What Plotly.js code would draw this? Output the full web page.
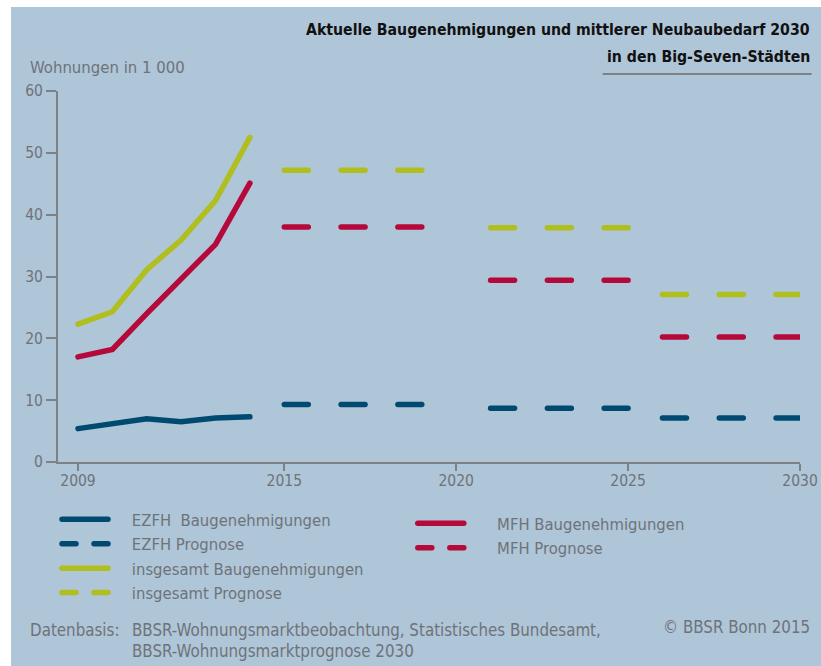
<!DOCTYPE html>
<html><head><meta charset="utf-8">
<script src="https://cdn.plot.ly/plotly-3.0.1.min.js"></script>
<style>
html,body{margin:0;padding:0;background:#ffffff;}
#chart{position:absolute;left:11px;top:7px;width:810px;height:659px;}
.scatterlayer path.js-line, .legendlines path.js-line {stroke-linecap: round;}
</style></head><body><div id="chart"></div>
<script>
// ---- data ----
const years = [2009, 2010, 2011, 2012, 2013, 2014];
const ezfhPermits  = [5.4, 6.2, 7.0, 6.5, 7.1, 7.3];
const mfhPermits   = [17.0, 18.2, 24.0, 29.7, 35.2, 45.1];
const totalPermits = [22.3, 24.3, 31.1, 35.9, 42.3, 52.5];

const periodStart = [2015, 2021, 2026];
const periodEnd   = [2019, 2025, 2030];
const ezfhForecast  = [9.3, 8.7, 7.1];
const mfhForecast   = [38.0, 29.4, 20.2];
const totalForecast = [47.2, 37.9, 27.1];

const xTickVals = [2009, 2015, 2020, 2025, 2030];
const xTickText = ['2009', '2015', '2020', '2025', '2030'];
const yTickVals = [0, 10, 20, 30, 40, 50, 60];
const yTickText = ['0', '10', '20', '30', '40', '50', '60'];

// ---- style ----
const FONT = "'DejaVu Sans Condensed', 'Liberation Sans Narrow', sans-serif";
const GRAY = '#6e7378';
const AXIS = '#7c8186';
const C_EZFH = '#004a72';
const C_MFH = '#b5083b';
const C_TOT = '#b0be1e';
const LW = 5.5;
const DASH_DATA = '24px,32.8px';
const DASH_LEG = '14px,18px';
const PADL = '\u00a0\u00a0\u00a0\u00a0';
const PADR = '\u00a0\u00a0\u00a0\u00a0\u00a0\u00a0';

// page pixel -> paper coords (plot area: x 58..800.4, y 91..462 in page px)
const PL = 58, PW = 742.4, PB = 462, PH = 371;
const PX = X => (X - PL) / PW;
const PY = Y => (PB - Y) / PH;

const traces = [];
function solid(name, y, color, legend, group) {
  traces.push({type: 'scatter', mode: 'lines', x: years, y: y, name: name,
    line: {color: color, width: LW}, legend: legend, legendgroup: group,
    hoverinfo: 'x+y'});
}
function legendDash(name, color, legend, group) {
  traces.push({type: 'scatter', mode: 'lines', x: [null], y: [null], name: name,
    line: {color: color, width: LW, dash: DASH_LEG}, legend: legend, legendgroup: group});
}
solid(PADL + 'EZFH\u00a0 Baugenehmigungen', ezfhPermits, C_EZFH, 'legend', 'g1');
legendDash(PADL + 'EZFH Prognose', C_EZFH, 'legend', 'g2');
solid(PADL + 'insgesamt Baugenehmigungen', totalPermits, C_TOT, 'legend', 'g3');
legendDash(PADL + 'insgesamt Prognose', C_TOT, 'legend', 'g4');
solid(PADR + 'MFH Baugenehmigungen', mfhPermits, C_MFH, 'legend2', 'g5');
legendDash(PADR + 'MFH Prognose', C_MFH, 'legend2', 'g6');

const forecasts = [[ezfhForecast, C_EZFH, 'g2'], [totalForecast, C_TOT, 'g4'], [mfhForecast, C_MFH, 'g6']];
forecasts.forEach(([vals, color, group]) => {
  periodStart.forEach((s, i) => {
    traces.push({type: 'scatter', mode: 'lines', x: [s, periodEnd[i]], y: [vals[i], vals[i]],
      line: {color: color, width: LW, dash: DASH_DATA}, showlegend: false,
      legendgroup: group, hoverinfo: 'y'});
  });
});

const txt = (text, X, Y, xanchor, size, color, bold) => ({
  text: bold ? '<b>' + text + '</b>' : text, xref: 'paper', yref: 'paper',
  x: PX(X), y: PY(Y), xanchor: xanchor, yanchor: 'middle', showarrow: false,
  font: {family: FONT, size: size, color: color}
});

const legendCommon = {
  xanchor: 'left', yanchor: 'top', bgcolor: 'rgba(0,0,0,0)', borderwidth: 0,
  font: {family: FONT, size: 16.5, color: GRAY}, itemwidth: 46,
  traceorder: 'grouped', tracegroupgap: 0
};

const layout = {
  width: 810, height: 659,
  margin: {l: 47, r: 20.6, t: 84, b: 204, pad: 0},
  paper_bgcolor: '#afc5d8', plot_bgcolor: 'rgba(0,0,0,0)',
  font: {family: FONT, color: GRAY, size: 16},
  showlegend: true,
  xaxis: {range: [2009 - 20 / 34.4, 2030], tickvals: xTickVals, ticktext: xTickText,
    showgrid: false, zeroline: false, showline: true, linecolor: AXIS, linewidth: 2,
    ticks: 'outside', ticklen: 7, tickwidth: 2, tickcolor: AXIS, ticklabelstandoff: -4,
    tickfont: {family: FONT, size: 15.5, color: GRAY}},
  yaxis: {range: [0, 60], tickvals: yTickVals, ticktext: yTickText,
    showgrid: false, zeroline: false, showline: true, linecolor: AXIS, linewidth: 2,
    ticks: 'outside', ticklen: 10, tickwidth: 2, tickcolor: AXIS,
    tickfont: {family: FONT, size: 15.5, color: GRAY}},
  legend: Object.assign({x: PX(57), y: PY(502)}, legendCommon),
  legend2: Object.assign({x: PX(413), y: PY(506)}, legendCommon),
  shapes: [{type: 'line', xref: 'paper', yref: 'paper', x0: PX(603), x1: PX(812),
    y0: PY(74), y1: PY(74), line: {color: AXIS, width: 2}}],
  annotations: [
    txt('Aktuelle Baugenehmigungen und mittlerer Neubaubedarf 2030', 812, 30, 'right', 15.7, '#111111', true),
    txt('in den Big-Seven-Städten', 812, 56, 'right', 15.7, '#111111', true),
    txt('Wohnungen in 1 000', 28, 68, 'left', 16.6, GRAY, false),
    txt('Datenbasis:', 28, 630, 'left', 16.8, GRAY, false),
    txt('BBSR-Wohnungsmarktbeobachtung, Statistisches Bundesamt,', 130, 630, 'left', 16.8, GRAY, false),
    txt('BBSR-Wohnungsmarktprognose 2030', 130, 651, 'left', 16.8, GRAY, false),
    txt('© BBSR Bonn 2015', 812, 627, 'right', 16.8, GRAY, false)
  ]
};

Plotly.newPlot('chart', traces, layout, {displayModeBar: false, staticPlot: true});
</script></body></html>
